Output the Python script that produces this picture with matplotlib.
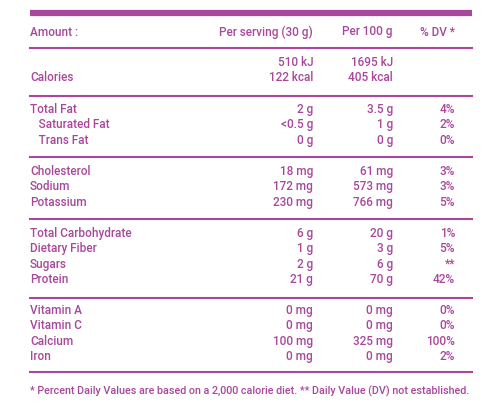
import matplotlib
matplotlib.use("Agg")
import matplotlib.pyplot as plt
from matplotlib import font_manager

C = "#a8479c"
fams = [f.name for f in font_manager.fontManager.ttflist]
FONT = ["Liberation Sans Narrow"] if "Liberation Sans Narrow" in fams else (["Roboto"] if "Roboto" in fams else ["DejaVu Sans"])
plt.rcParams['font.family'] = FONT + ["DejaVu Sans"]

header = ["Amount :", "Per serving (30 g)", "Per 100 g", "% DV *"]
sections = [
    [("", "510 kJ", "1695 kJ", ""), ("Calories", "122 kcal", "405 kcal", "")],
    [("Total Fat", "2 g", "3.5 g", "4%"), ("   Saturated Fat", "<0.5 g", "1 g", "2%"),
     ("   Trans Fat", "0 g", "0 g", "0%")],
    [("Cholesterol", "18 mg", "61 mg", "3%"), ("Sodium", "172 mg", "573 mg", "3%"),
     ("Potassium", "230 mg", "766 mg", "5%")],
    [("Total Carbohydrate", "6 g", "20 g", "1%"), ("Dietary Fiber", "1 g", "3 g", "5%"),
     ("Sugars", "2 g", "6 g", "**"), ("Protein", "21 g", "70 g", "42%")],
    [("Vitamin A", "0 mg", "0 mg", "0%"), ("Vitamin C", "0 mg", "0 mg", "0%"),
     ("Calcium", "100 mg", "325 mg", "100%"), ("Iron", "0 mg", "0 mg", "2%")],
]
footnote = "* Percent Daily Values are based on a 2,000 calorie diet. ** Daily Value (DV) not established."

fig = plt.figure(figsize=(5, 4.11), dpi=100)
ax = fig.add_axes([0, 0, 1, 1])
ax.set_xlim(0, 500); ax.set_ylim(411, 0); ax.axis("off")

L, R = 30, 472
cols = [313, 393, 455]
fs = 8.5
W = "medium"
ax.plot([L, R], [13.5, 13.5], color=C, lw=4.5, solid_capstyle="butt")
ax.text(L, 32, header[0], color=C, fontsize=fs, weight=W, va="center")
for x, t in zip(cols, header[1:]):
    ax.text(x, 32, t, color=C, fontsize=fs, weight=W, va="center", ha="right")
ax.plot([L, R], [48, 48], color=C, lw=1.5)

starts = [62, 109, 171, 233, 310]
lines = [96, 157, 219, 298, 372]
for sec, y0, yl in zip(sections, starts, lines):
    for i, row in enumerate(sec):
        y = y0 + i * 15.5
        ax.text(L, y, row[0], color=C, fontsize=fs, weight=W, va="center")
        for x, t in zip(cols, row[1:]):
            ax.text(x, y, t, color=C, fontsize=fs, weight=W, va="center", ha="right")
    ax.plot([L, R], [yl, yl], color=C, lw=1.5)

ft = ax.text(L, 391, footnote, color=C, fontsize=fs, weight=W, va="center")
fig.canvas.draw()
w = ft.get_window_extent().width
if w > (R - L):
    ft.set_fontsize(fs * (R - L) / w)
fig.savefig("out.png", dpi=100)
